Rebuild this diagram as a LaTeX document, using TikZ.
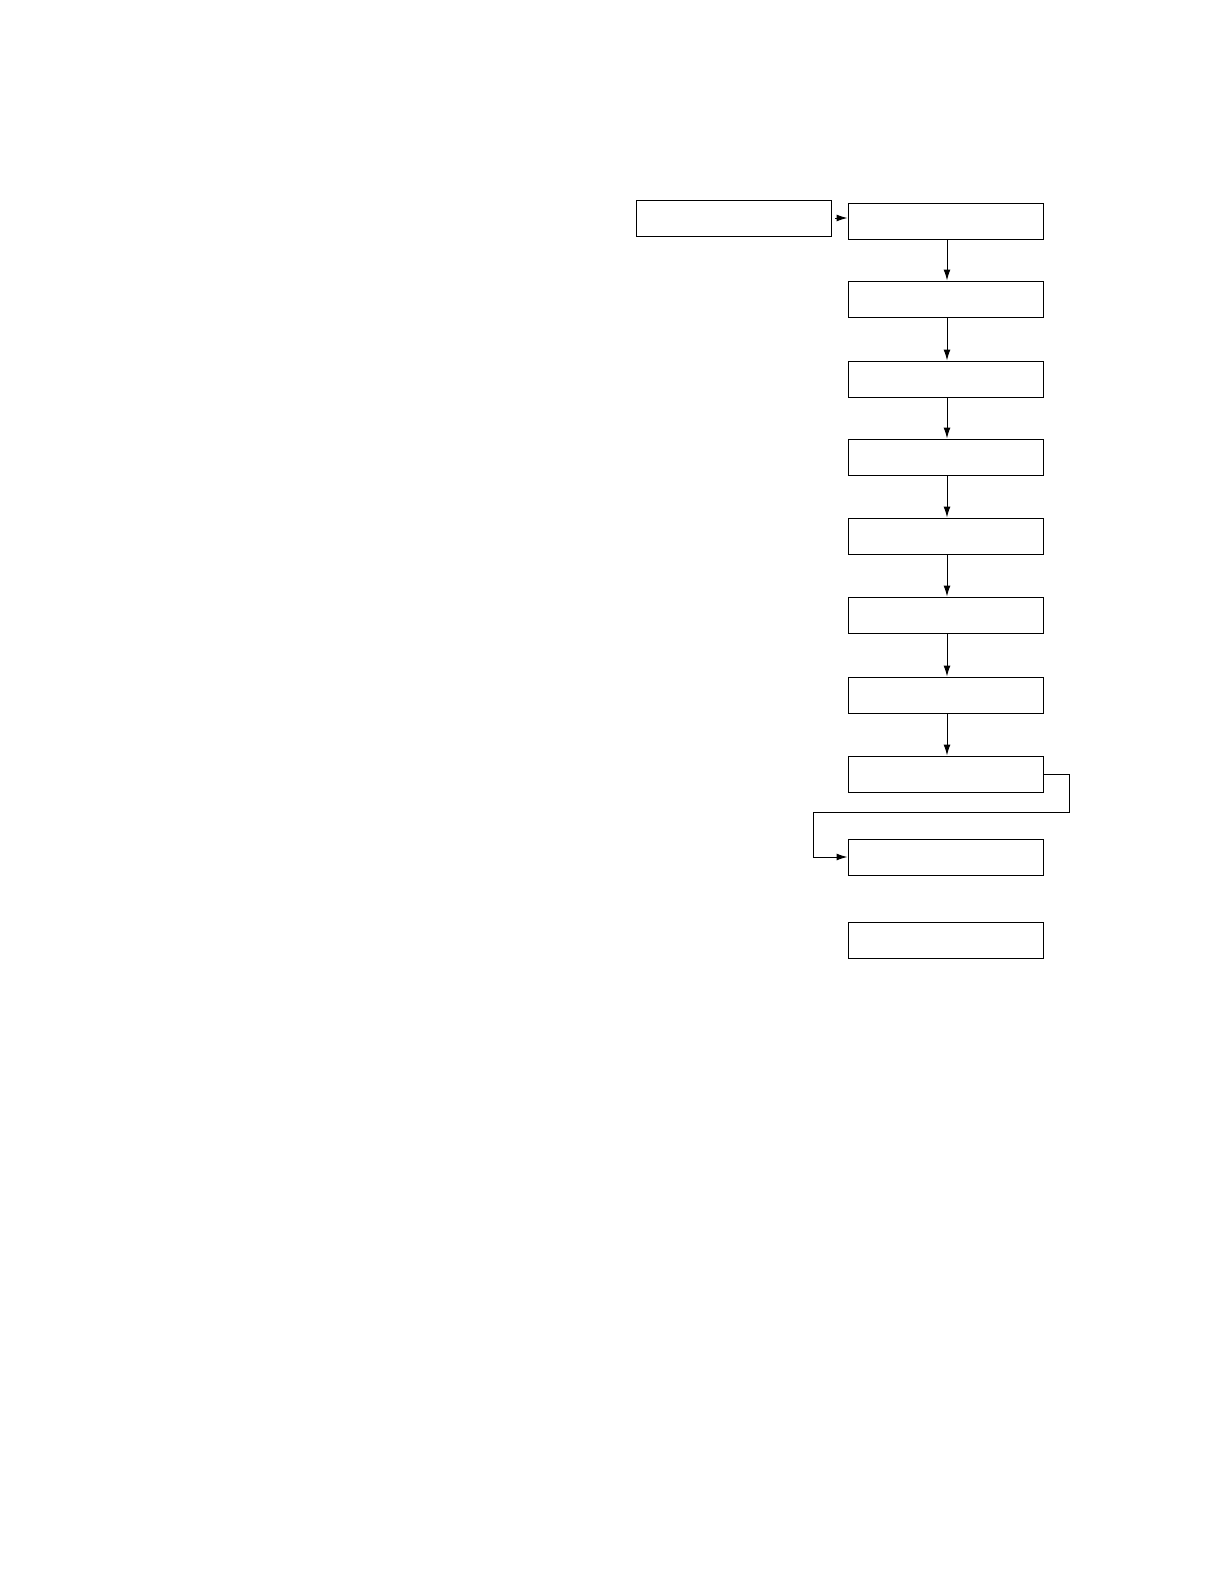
\documentclass[tikz,border=0pt]{standalone}
\usetikzlibrary{arrows.meta}
\begin{document}
\begin{tikzpicture}[x=1pt,y=-1pt,
  box/.style={draw,line width=1pt,minimum width=195pt,minimum height=36pt,inner sep=0pt},
  arr/.style={line width=1pt,-{Latex[length=11pt,width=7pt]}},
  down/.style={arr,transform canvas={xshift=1.5pt}}]
\useasboundingbox (0,0) rectangle (1224,1584);
\node[box] (lb) at (734,218) {};
\node[box] (b1) at (945.5,221) {};
\node[box] (b2) at (945.5,299) {};
\node[box] (b3) at (945.5,379) {};
\node[box] (b4) at (945.5,457) {};
\node[box] (b5) at (945.5,536) {};
\node[box] (b6) at (945.5,615) {};
\node[box] (b7) at (945.5,695) {};
\node[box] (b8) at (945.5,774) {};
\node[box] (b9) at (945.5,857) {};
\node[box] (b10) at (945.5,940) {};
\draw[arr,shorten <=3pt] (lb.east) -- (lb.east -| b1.west);
\draw[down] (b1.south) -- (b2.north);
\draw[down] (b2.south) -- (b3.north);
\draw[down] (b3.south) -- (b4.north);
\draw[down] (b4.south) -- (b5.north);
\draw[down] (b5.south) -- (b6.north);
\draw[down] (b6.south) -- (b7.north);
\draw[down] (b7.south) -- (b8.north);
\coordinate (c1) at (1069,812);
\coordinate (c2) at (813,812);
\draw[arr] (b8.east) -| (c1) -- (c2) |- (b9.west);
\end{tikzpicture}
\end{document}
